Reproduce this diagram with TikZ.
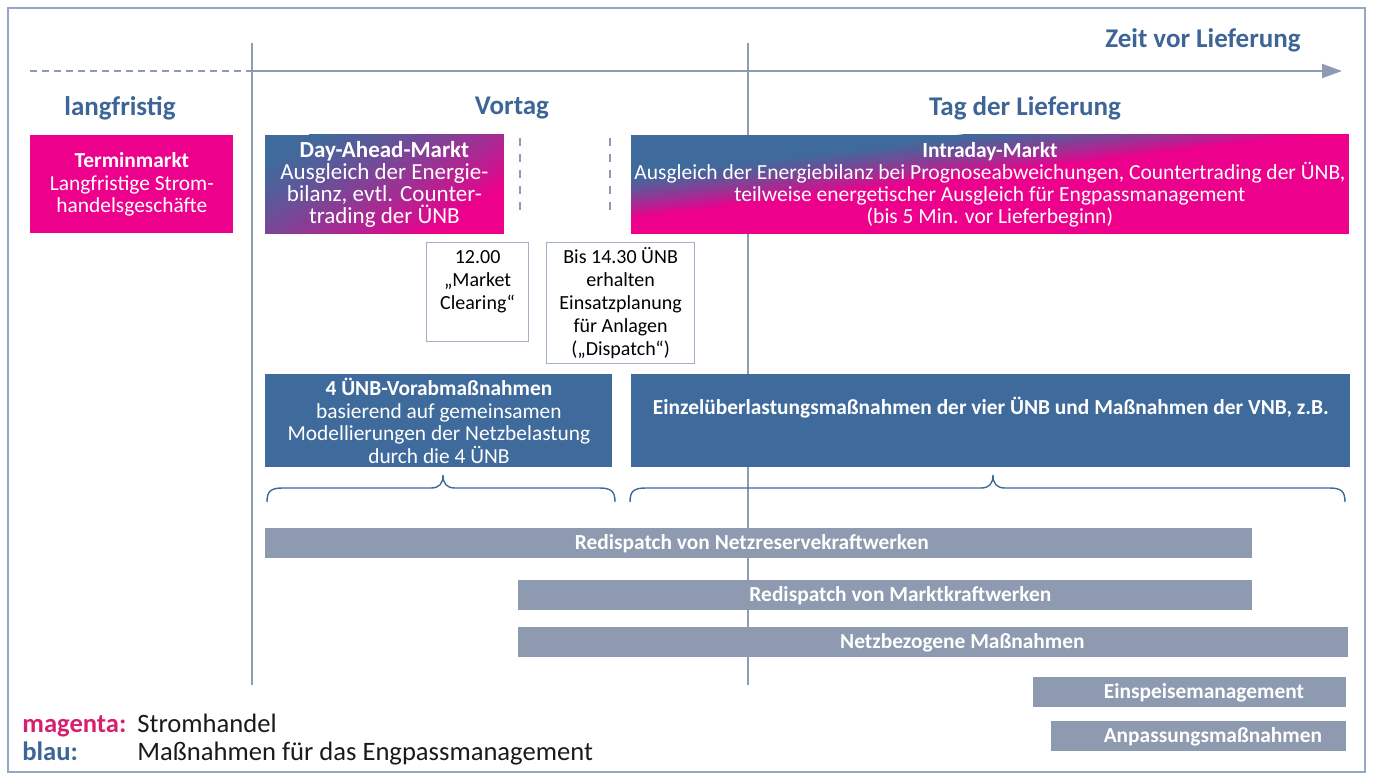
\documentclass[tikz,border=0pt]{standalone}
\usepackage{fontspec}
\setmainfont{Carlito}
\usetikzlibrary{arrows.meta,backgrounds}

\definecolor{mag}{HTML}{EC008C}
\definecolor{legmagc}{HTML}{D6206F}
\definecolor{dblue}{HTML}{3F6A9C}
\definecolor{hblue}{HTML}{3D6596}
\definecolor{bargrey}{HTML}{8E9AAF}
\definecolor{lgrey}{HTML}{8E9BB4}
\definecolor{tboxline}{HTML}{A3B0C6}
\definecolor{frameline}{HTML}{94A7C4}
\definecolor{legtext}{HTML}{1A1A1A}

\tikzset{
  header/.style={font=\fontsize{13.5}{15}\selectfont\bfseries, text=hblue, inner sep=0pt},
  body/.style={font=\fontsize{10.7}{11.3}\selectfont, align=center, text=white, anchor=north west, inner sep=0pt},
  magbox/.style={body, fill=mag},
  gradbox/.style={body},
  bluebox/.style={body, fill=dblue},
  timebox/.style={draw=tboxline, line width=0.6pt, fill=white, anchor=north west, inner sep=0pt},
  boxtext/.style={font=\fontsize{10}{11.5}\selectfont, align=center, anchor=north, inner sep=0pt},
  greybar/.style={fill=bargrey, anchor=north west, inner sep=0pt, minimum height=15pt},
  barlabel/.style={font=\fontsize{10.7}{12}\selectfont\bfseries, text=white, inner sep=0pt},
  timeline/.style={draw=lgrey, line width=0.7pt},
  brace/.style={draw=dblue, line width=0.7pt},
  legend/.style={font=\fontsize{13.3}{15}\selectfont, text=legtext, anchor=base west, inner sep=0pt}
}

% brace with its tip pointing up: left end, tip, right end
\newcommand\upbrace[3]{%
  \draw[brace] (#1,502) .. controls (#1,491) and (#1+4,488) .. (#1+16,488)
    -- (#2-12,488) .. controls (#2-4,488) and (#2,484) .. (#2,475)
    .. controls (#2,484) and (#2+4,488) .. (#2+12,488)
    -- (#3-16,488) .. controls (#3-4,488) and (#3,491) .. (#3,502);}

% one band of the gradient: ox, oy, angle, from, to
\newcommand\gradband[5]{%
  ({#1+(#4)*sin(#3)-1500*cos(#3)},{#2+(#4)*cos(#3)+1500*sin(#3)})
  -- ({#1+(#4)*sin(#3)+1500*cos(#3)},{#2+(#4)*cos(#3)-1500*sin(#3)})
  -- ({#1+(#5)*sin(#3)+1500*cos(#3)},{#2+(#5)*cos(#3)-1500*sin(#3)})
  -- ({#1+(#5)*sin(#3)-1500*cos(#3)},{#2+(#5)*cos(#3)+1500*sin(#3)}) -- cycle}

% blue-to-magenta fill behind a node: node, ox, oy, angle, start, end
\newcommand\gradfill[6]{%
  \begin{pgfonlayer}{background}
  \begin{scope}
    \clip (#1.north west) rectangle (#1.south east);
    \fill[dblue] (#1.north west) rectangle (#1.south east);
    \fill[mag] \gradband{#2}{#3}{#4}{#6}{600};
    \foreach \i in {0,...,29} {
      \pgfmathsetmacro\gna{#5+\i*(#6-#5)/30}
      \pgfmathsetmacro\gnb{\gna+(#6-#5)/30+0.8}
      \pgfmathsetmacro\mixp{100*(\i/29)^1.3}
      \fill[mag!\mixp!dblue] \gradband{#2}{#3}{#4}{\gna}{\gnb};
    }
  \end{scope}
  \end{pgfonlayer}}

\begin{document}
\begin{tikzpicture}[x=0.5pt,y=-0.5pt]
  \useasboundingbox (0,0) rectangle (1373,780);
  \draw[frameline, line width=0.75pt] (8,8) rectangle (1365,772);

  % time axis
  \coordinate (axstart) at (30,71);
  \coordinate (axmid) at (250,71);
  \coordinate (axend) at (1342,71);
  \draw[timeline, line width=1pt, dash pattern=on 3.5pt off 2.5pt] (axstart) -- (axmid);
  \draw[timeline, line width=1pt, -{Triangle[length=10pt,width=7pt]}] (axmid) -- (axend);
  \node[header] (zeit) at (1203,40) {Zeit vor Lieferung};

  % day borders
  \coordinate (vtop) at (252,43);
  \coordinate (vbot) at (252,685);
  \coordinate (ttop) at (748,43);
  \coordinate (tbot) at (748,685);
  \begin{pgfonlayer}{background}
    \draw[timeline] (vtop) -- (vbot);
    \draw[timeline] (ttop) -- (tbot);
  \end{pgfonlayer}

  \node[header] (langfr) at (120,108) {langfristig};
  \node[header] (vortag) at (512,108) {Vortag};
  \node[header] (tagdl) at (1025,108) {Tag der Lieferung};

  % markets
  \node[magbox, minimum width=101.5pt, minimum height=49pt] (termin) at (30,135)
    {\textbf{Terminmarkt}\\Langfristige Strom-\\handelsgeschäfte};
  \node[gradbox, minimum width=119pt, minimum height=49pt, font=\fontsize{11.5}{11}\selectfont] (dayahead) at (265,135)
    {\textbf{Day-Ahead-Markt}\\Ausgleich der Energie-\\bilanz, evtl. Counter-\\trading der ÜNB};
  \node[gradbox, minimum width=358.5pt, minimum height=49pt, font=\fontsize{10.75}{11}\selectfont] (intraday) at (631,135)
    {\textbf{Intraday-Markt}\\Ausgleich der Energiebilanz bei Prognoseabweichungen, Countertrading der ÜNB,\\teilweise energetischer Ausgleich für Engpassmanagement\\(bis 5 Min. vor Lieferbeginn)};
  \gradfill{dayahead}{265}{160}{30}{0}{146}
  \gradfill{intraday}{631}{175}{7}{0}{44}

  \coordinate (d1top) at (520,138);
  \coordinate (d1bot) at (520,217);
  \coordinate (d2top) at (610,138);
  \coordinate (d2bot) at (610,217);
  \draw[timeline, line width=0.6pt, dash pattern=on 4pt off 4pt] (d1top) -- (d1bot);
  \draw[timeline, line width=0.6pt, dash pattern=on 4pt off 4pt] (d2top) -- (d2bot);

  % points in time
  \node[timebox, minimum width=51pt, minimum height=49.5pt] (clearing) at (426,242) {};
  \node[boxtext] (clearingtxt) at ([yshift=-4pt]clearing.north) {12.00\\„Market\\Clearing“};
  \node[timebox, minimum width=74pt, minimum height=60.5pt, boxtext, anchor=north west] (dispatch) at (546,242)
    {Bis 14.30 ÜNB\\erhalten\\Einsatzplanung\\für Anlagen\\(„Dispatch“)};

  % congestion measures
  \node[bluebox, minimum width=173.5pt, minimum height=46.5pt] (vorab) at (265,374)
    {\textbf{4 ÜNB-Vorabmaßnahmen}\\basierend auf gemeinsamen\\Modellierungen der Netzbelastung\\durch die 4 ÜNB};
  \node[bluebox, minimum width=359.5pt, minimum height=46.5pt, text height=6pt, text depth=12pt] (einzel) at (631,374)
    {\textbf{Einzelüberlastungsmaßnahmen der vier ÜNB und Maßnahmen der VNB, z.B.}};

  \upbrace{267}{443}{615}
  \upbrace{630}{993}{1345}

  % grey bars
  \node[greybar, minimum width=493.5pt, label={[barlabel, xshift=-3.5pt]center:Redispatch von Netzreservekraftwerken}] (netzres) at (265,528) {};
  \node[greybar, minimum width=367pt, label={[barlabel, xshift=7.5pt]center:Redispatch von Marktkraftwerken}] (marktkw) at (518,580) {};
  \node[greybar, minimum width=415pt, label={[barlabel, xshift=14.5pt]center:Netzbezogene Maßnahmen}] (netzbez) at (518,627) {};
  \node[greybar, minimum width=156.5pt, label={[barlabel, xshift=7pt]center:Einspeisemanagement}] (einspeise) at (1033,677) {};
  \node[greybar, minimum width=147.5pt, label={[barlabel, xshift=7pt]center:Anpassungsmaßnahmen}] (anpass) at (1051,721) {};

  % legend
  \node[legend, text=legmagc] (legmag) at (22,733) {\textbf{magenta:}};
  \node[legend] (legmagtxt) at (137,733) {Stromhandel};
  \node[legend, text=hblue] (legblau) at (22,761) {\textbf{blau:}};
  \node[legend] (legblautxt) at (137,761) {Maßnahmen für das Engpassmanagement};
\end{tikzpicture}
\end{document}
